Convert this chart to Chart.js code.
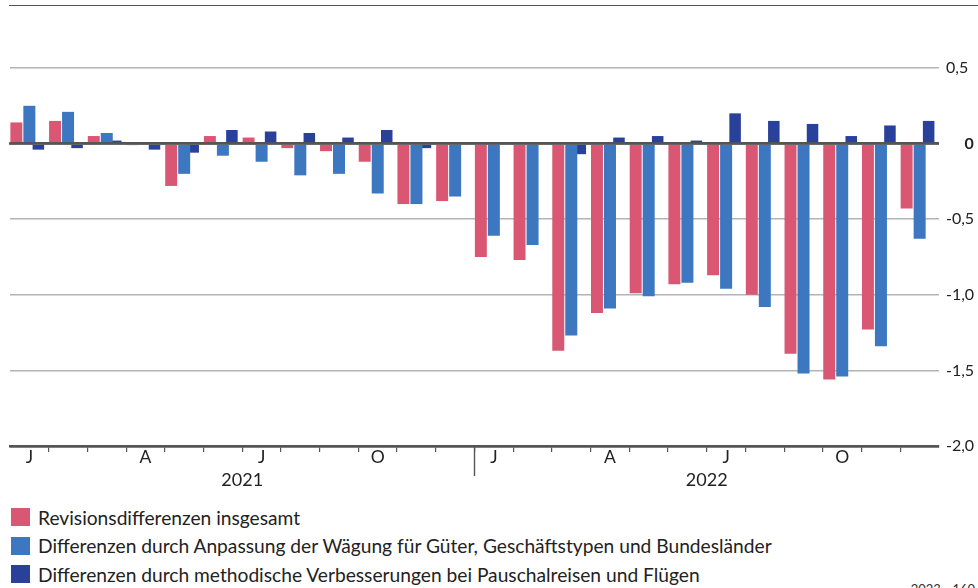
<!DOCTYPE html>
<html><head><meta charset="utf-8">
<script src="https://cdn.jsdelivr.net/npm/chart.js@4.4.0/dist/chart.umd.min.js"></script>
<style>
html,body{margin:0;padding:0;background:#fff;width:978px;height:588px;overflow:hidden;font-family:Lato,sans-serif;}
#wrap{position:absolute;left:0;top:0;width:978px;height:500px;}
#topline{position:absolute;left:9px;top:5px;width:969px;height:0;border-top:1.5px solid #555;}
#legend{position:absolute;left:11px;top:508px;}
.item{display:flex;align-items:center;height:18px;margin-bottom:10.5px;font-size:19.2px;color:#222;white-space:nowrap;}
.box{width:19px;height:18px;margin-right:8px;flex:none;}
#src{position:absolute;right:3px;top:581px;font-size:13px;color:#333;}
</style></head>
<body>
<div id="topline"></div>
<div id="wrap"><canvas id="c"></canvas></div>
<div id="legend"></div>
<div id="src">2023 - 160</div>
<script>
const categories = ['Jan 2021','Feb 2021','Mär 2021','Apr 2021','Mai 2021','Jun 2021','Jul 2021','Aug 2021','Sep 2021','Okt 2021','Nov 2021','Dez 2021',
  'Jan 2022','Feb 2022','Mär 2022','Apr 2022','Mai 2022','Jun 2022','Jul 2022','Aug 2022','Sep 2022','Okt 2022','Nov 2022','Dez 2022'];
const monthTickLabels = ['J','','','A','','','J','','','O','','','J','','','A','','','J','','','O','',''];
const yearLabels = ['2021','2022'];
const yTickValues = [0.5, 0, -0.5, -1.0, -1.5, -2.0];
const seriesNames = ['Revisionsdifferenzen insgesamt',
  'Differenzen durch Anpassung der Wägung für Güter, Geschäftstypen und Bundesländer',
  'Differenzen durch methodische Verbesserungen bei Pauschalreisen und Flügen'];
const revisionTotal = [0.14,0.15,0.05,-0.01,-0.28,0.05,0.04,-0.03,-0.05,-0.12,-0.40,-0.38,
  -0.75,-0.77,-1.37,-1.12,-0.99,-0.93,-0.87,-1.00,-1.39,-1.56,-1.23,-0.43];
const weightingDiff = [0.25,0.21,0.07,0.00,-0.20,-0.08,-0.12,-0.21,-0.20,-0.33,-0.40,-0.35,
  -0.61,-0.67,-1.27,-1.09,-1.01,-0.92,-0.96,-1.08,-1.52,-1.54,-1.34,-0.63];
const methodDiff = [-0.04,-0.03,0.02,-0.04,-0.06,0.09,0.08,0.07,0.04,0.09,-0.03,0.01,
  0.00,0.00,-0.07,0.04,0.05,0.02,0.20,0.15,0.13,0.05,0.12,0.15];

const colors = ['#d95773','#3c77bf','#2a419b'];
const barLayout = [
  {categoryPercentage:1.008, barPercentage:0.92},
  {categoryPercentage:0.93, barPercentage:1.0},
  {categoryPercentage:0.698, barPercentage:1.28}
];
const FONT = 'Lato';
const AXIS = '#555';

const seriesData = [revisionTotal, weightingDiff, methodDiff];
const datasets = seriesData.map((d,i)=>Object.assign({
  label: seriesNames[i], data: d, backgroundColor: colors[i], borderWidth:0
}, barLayout[i]));

const overlay = {
  id:'overlay',
  afterDatasetsDraw(chart){
    const {ctx, chartArea, scales} = chart;
    const y0 = scales.y.getPixelForValue(0);
    ctx.save();
    ctx.strokeStyle = AXIS; ctx.lineWidth = 2.5;
    ctx.beginPath(); ctx.moveTo(chartArea.left-1, y0); ctx.lineTo(chartArea.right, y0); ctx.stroke();
    const xb = (scales.x.getPixelForValue(11) + scales.x.getPixelForValue(12))/2;
    ctx.lineWidth = 1.4;
    ctx.beginPath(); ctx.moveTo(xb, chartArea.bottom); ctx.lineTo(xb, chartArea.bottom+30); ctx.stroke();
    ctx.restore();
  }
};

new Chart(document.getElementById('c'), {
  type:'bar',
  data:{ labels: categories, datasets },
  options:{
    responsive:true, maintainAspectRatio:false, animation:false,
    layout:{ padding:{ top:68, left:10, right:0, bottom:0 } },
    plugins:{ legend:{display:false}, tooltip:{enabled:false} },
    scales:{
      x:{
        type:'category', offset:true,
        grid:{ offset:true, drawOnChartArea:false, drawTicks:true, tickLength:6, lineWidth:1.2,
          color: c => (c.type !== 'tick' || c.index === 0) ? 'rgba(0,0,0,0)' : AXIS },
        border:{ display:true, color:AXIS, width:2.5 },
        ticks:{ autoSkip:false, maxRotation:0, minRotation:0, padding:-5, color:'#222',
          font:{family:FONT, size:17.5}, callback:(v,i)=>monthTickLabels[i] },
        afterFit: s => { s.height = 24; }
      },
      x2:{
        type:'linear', position:'bottom', min:0, max:categories.length, offset:false,
        grid:{ display:false }, border:{ display:false },
        afterBuildTicks: s => { s.ticks = [{value:6},{value:18}]; },
        ticks:{ autoSkip:false, maxRotation:0, minRotation:0, padding:-9, color:'#222',
          font:{family:FONT, size:18}, callback: v => v===6 ? yearLabels[0] : (v===18 ? yearLabels[1] : '') },
        afterFit: s => { s.height = 30; }
      },
      y:{
        position:'right', min:-2, max:0.5,
        afterBuildTicks: s => { s.ticks = yTickValues.map(v=>({value:v})); },
        grid:{ drawTicks:false,
          color: c => (c.tick && (c.tick.value===0 || c.tick.value===-2)) ? AXIS : '#b4b4b4',
          lineWidth: c => (c.tick && (c.tick.value===0 || c.tick.value===-2)) ? 2.5 : 1.6 },
        border:{ display:false },
        ticks:{ crossAlign:'near', padding:7, color:'#222',
          font: c => ({family:FONT, size:16, weight: (c.tick && c.tick.value===0) ? 'bold' : 'normal'}),
          callback: v => v===0 ? '\u2007\u20070' : v.toFixed(1).replace('.', ',') },
        afterFit: s => { s.width = 39; }
      }
    }
  },
  plugins:[overlay]
});

const leg = document.getElementById('legend');
seriesNames.forEach((n,i)=>{
  const it = document.createElement('div'); it.className='item';
  const b = document.createElement('span'); b.className='box'; b.style.background = colors[i];
  const t = document.createElement('span'); t.textContent = n;
  it.appendChild(b); it.appendChild(t); leg.appendChild(it);
});
</script>
</body></html>
